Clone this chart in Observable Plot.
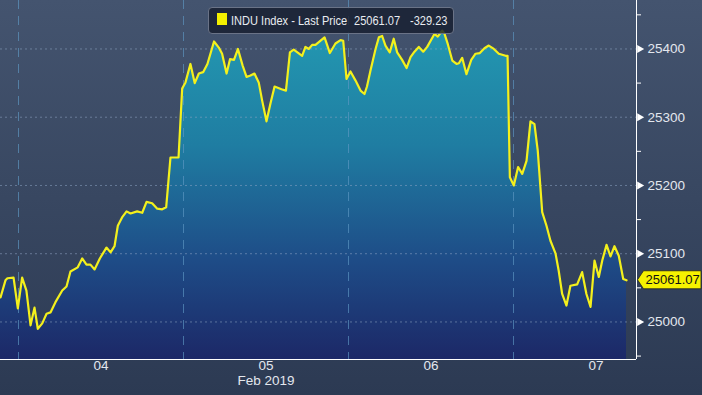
<!DOCTYPE html>
<html><head><meta charset="utf-8">
<script src="https://cdn.jsdelivr.net/npm/d3@7"></script>
<script src="https://cdn.jsdelivr.net/npm/@observablehq/plot@0.6"></script>
<style>
html,body{margin:0;padding:0;}
body{width:702px;height:395px;overflow:hidden;background:linear-gradient(#44546f,#2c3a53);font-family:"Liberation Sans",Arial,sans-serif;}
#wrap{position:relative;width:702px;height:395px;}
#wrap svg{position:absolute;left:0;top:0;}
#legend{position:absolute;left:208px;top:7px;width:244px;height:25px;background:rgba(22,29,46,0.82);border:1px solid #6a7387;border-radius:4px;color:#e9ecf1;font-size:13px;}
#legend span{position:absolute;top:4px;white-space:nowrap;line-height:17px;transform:scaleX(0.85);transform-origin:0 50%;}
#legend .sw{position:absolute;left:8px;top:5px;width:10px;height:12px;background:#f4f000;}
</style></head>
<body><div id="wrap"></div>
<script>
// ---- data ----
const legendTitle = "INDU Index - Last Price";
const lastPrice = 25061.07;
const netChange = -329.23;
const dayBounds = [4, 5, 6, 7];
const dayCenters = [4.5, 5.5, 6.5, 7.5];
const dayLabels = ["04", "05", "06", "07"];
const monthLabel = "Feb 2019";
const yTicks = [25000, 25100, 25200, 25300, 25400];
const yMinor = [24950, 25050, 25150, 25250, 25350, 25450];
// position in trading days (day boundary = integer), price
const pos = [
3.891,3.921,3.933,3.970,3.996,4.022,4.048,4.073,4.097,4.117,
4.144,4.170,4.194,4.224,4.265,4.291,4.315,4.359,4.386,4.412,
4.436,4.461,4.493,4.533,4.558,4.582,4.602,4.630,4.655,4.679,
4.719,4.750,4.776,4.810,4.841,4.871,4.895,4.921,4.970,4.992,
5.012,5.042,5.068,5.093,5.119,5.145,5.185,5.214,5.234,5.261,
5.282,5.306,5.330,5.358,5.382,5.406,5.430,5.456,5.477,5.503,
5.527,5.552,5.594,5.621,5.645,5.668,5.719,5.739,5.759,5.780,
5.800,5.820,5.855,5.887,5.921,5.952,5.968,5.988,6.012,6.042,
6.073,6.097,6.112,6.133,6.164,6.184,6.204,6.224,6.250,6.274,
6.295,6.325,6.352,6.376,6.400,6.426,6.453,6.477,6.521,6.541,
6.568,6.582,6.602,6.629,6.655,6.669,6.689,6.715,6.744,6.770,
6.796,6.824,6.850,6.881,6.911,6.952,6.964,6.978,7.002,7.028,
7.053,7.079,7.103,7.127,7.147,7.174,7.200,7.224,7.255,7.274,
7.295,7.321,7.345,7.386,7.416,7.442,7.467,7.491,7.517,7.538,
7.564,7.588,7.612,7.638,7.665,7.685];
const price = [
25036,25061,25064,25065,25020,25065,25046,24995,25021,24990,
24998,25012,25014,25029,25046,25052,25074,25080,25093,25084,
25084,25077,25093,25109,25102,25111,25141,25154,25162,25159,
25162,25160,25176,25174,25166,25165,25168,25241,25241,25342,
25351,25378,25350,25364,25366,25378,25411,25402,25393,25364,
25385,25384,25400,25376,25359,25361,25364,25351,25324,25294,
25320,25345,25341,25339,25395,25399,25390,25403,25400,25406,
25406,25410,25417,25394,25408,25413,25412,25356,25367,25354,
25339,25334,25345,25368,25400,25417,25419,25405,25395,25415,
25395,25384,25372,25388,25396,25403,25396,25403,25422,25418,
25427,25422,25407,25383,25378,25379,25387,25363,25384,25393,
25394,25401,25405,25400,25393,25390,25390,25212,25200,25227,
25217,25236,25294,25290,25251,25161,25141,25119,25100,25075,
25041,25024,25053,25055,25073,25041,25022,25090,25066,25090,
25113,25096,25111,25097,25063,25061.07];

const data = pos.map((p, i) => ({pos: p, price: price[i]}));
const xDom = [3.8909, 7.7455];
const yDom = [24945, 25471];
const txt = "#e3e7ee";

const chart = Plot.plot({
  width: 702, height: 395,
  marginLeft: 0, marginTop: 0, marginRight: 66, marginBottom: 36,
  style: {background: "transparent", color: txt, fontFamily: '"Liberation Sans",Arial,sans-serif'},
  x: {domain: xDom, axis: null},
  y: {domain: yDom, axis: null},
  marks: [
    Plot.areaY(data, {x: "pos", y1: yDom[0], y2: "price", fill: "url(#areaGrad)", curve: "linear"}),
    Plot.ruleY(yTicks, {stroke: "#8ea4c2", strokeOpacity: 0.55, strokeDasharray: "2,3"}),
    Plot.ruleX(dayBounds, {stroke: "#5f9ac4", strokeOpacity: 0.65, strokeDasharray: "9,7"}),
    Plot.lineY(data, {x: "pos", y: "price", stroke: "#f4f01c", strokeWidth: 2.2, strokeLinejoin: "round"}),
    Plot.ruleX([xDom[1]], {stroke: "#ffffff", strokeWidth: 1}),
    Plot.ruleY([yDom[0]], {stroke: "#ffffff", strokeWidth: 1}),
    Plot.axisY({ticks: yMinor, anchor: "right", tickSize: 4, tickFormat: () => "", stroke: "#ffffff", label: null}),
    Plot.dot(yTicks, {y: d => d, frameAnchor: "right", symbol: "triangle", rotate: 90, r: 3, fill: "#ffffff", stroke: "none", dx: 3}),
    Plot.axisY({ticks: yTicks, anchor: "right", tickSize: 0, tickPadding: 11, fontSize: 13.5, fill: txt, label: null, tickFormat: d => String(d)}),
    Plot.text(dayCenters, {x: d => d, text: (d, i) => dayLabels[i], frameAnchor: "bottom", dy: 10, fontSize: 13.5, fill: txt}),
    Plot.text([monthLabel], {x: dayCenters[1], text: d => d, frameAnchor: "bottom", dy: 25, fontSize: 13.5, fill: txt})
  ]
});

const svg = d3.select(chart);
const defs = svg.insert("defs", ":first-child");
const grad = defs.append("linearGradient").attr("id", "areaGrad")
  .attr("gradientUnits", "userSpaceOnUse").attr("x1", 0).attr("x2", 0).attr("y1", 30).attr("y2", 359);
[["0", "#2398b1"], ["0.35", "#1f7da2"], ["0.7", "#1e4c87"], ["1", "#1c2867"]].forEach(([o, c]) =>
  grad.append("stop").attr("offset", o).attr("stop-color", c));

// current value tag
const ys = chart.scale("y"), xs = chart.scale("x");
const yv = ys.apply(lastPrice);
const x0 = xs.apply(xDom[1]) + 1.5;
const tag = svg.append("g");
tag.append("path")
  .attr("d", `M${x0},${yv} L${x0 + 6},${yv - 9} L${701},${yv - 9} L${701},${yv + 9} L${x0 + 6},${yv + 9} Z`)
  .attr("fill", "#f6f200").attr("stroke", "#222").attr("stroke-width", 0.8);
tag.append("text").attr("x", x0 + 8).attr("y", yv).attr("dy", "0.36em")
  .attr("text-anchor", "start")
  .attr("font-size", 13).attr("fill", "#111").text(lastPrice.toFixed(2));

document.getElementById("wrap").appendChild(chart);

// legend
const lg = document.createElement("div");
lg.id = "legend";
lg.innerHTML = `<div class="sw"></div><span style="left:22px">${legendTitle}</span><span style="left:145px">${lastPrice.toFixed(2)}</span><span style="left:201px">${netChange.toFixed(2)}</span>`;
document.getElementById("wrap").appendChild(lg);
</script>
</body></html>
